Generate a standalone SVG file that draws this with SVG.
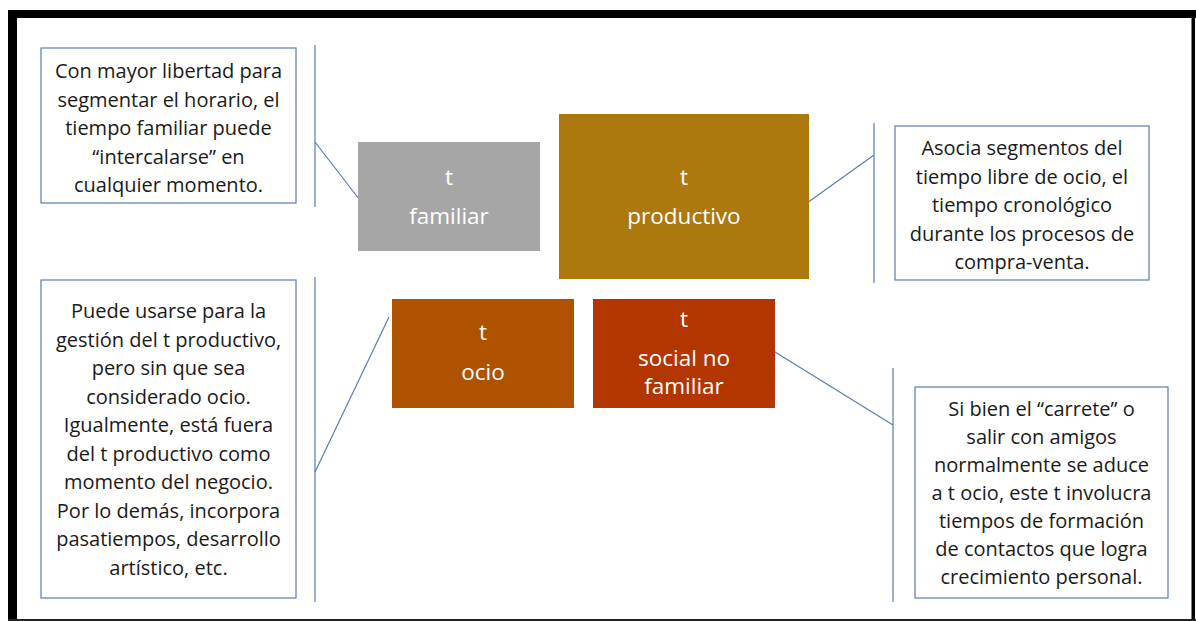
<svg xmlns="http://www.w3.org/2000/svg" width="1196" height="621" viewBox="0 0 1196 621">
<style>
.note{fill:#fff;stroke:#5b7bb6;stroke-width:1.2}
.nt{font-family:"Open Sans","Liberation Sans",sans-serif;font-size:20px;fill:#1a1a1a;text-anchor:middle}
.lt{font-family:"Open Sans","Liberation Sans",sans-serif;font-size:22.5px;fill:#fff;text-anchor:middle}
.cn{stroke:#5b7bb6;stroke-width:1.2;fill:none}
</style>
<rect width="1196" height="621" fill="#fff"/>
<g id="frame">
<rect x="8" y="10" width="1188" height="8" fill="#000"/>
<rect x="8" y="10" width="9" height="611" fill="#000"/>
<rect x="1191.5" y="10" width="3.5" height="611" fill="#000"/>
<rect x="8" y="619" width="1188" height="2" fill="#222"/>
</g>
<g id="connectors">
<line class="cn" x1="315" y1="45" x2="315" y2="207"/>
<line class="cn" x1="315" y1="142" x2="359" y2="199"/>
<line class="cn" x1="315" y1="277" x2="315" y2="602"/>
<line class="cn" x1="389" y1="317" x2="315" y2="472"/>
<line class="cn" x1="874" y1="123" x2="874" y2="283"/>
<line class="cn" x1="807" y1="203" x2="874" y2="155"/>
<line class="cn" x1="893" y1="368" x2="893" y2="602"/>
<line class="cn" x1="775" y1="352" x2="893" y2="425"/>
</g>
<g id="familiar">
<rect x="358" y="142" width="182" height="109" fill="#a6a6a6"/>
<text class="lt" x="449" y="185">t</text>
<text class="lt" x="449" y="224">familiar</text>
</g>
<g id="productivo">
<rect x="559" y="114" width="250" height="165" fill="#ad790f"/>
<text class="lt" x="684" y="185">t</text>
<text class="lt" x="684" y="224">productivo</text>
</g>
<g id="ocio">
<rect x="392" y="299" width="182" height="109" fill="#ae5200"/>
<text class="lt" x="483" y="340">t</text>
<text class="lt" x="483" y="380">ocio</text>
</g>
<g id="social">
<rect x="593" y="299" width="182" height="109" fill="#b33600"/>
<text class="lt" x="684" y="327">t</text>
<text class="lt" x="684" y="366">social no</text>
<text class="lt" x="684" y="394">familiar</text>
</g>
<g id="note-familiar">
<rect class="note" x="41" y="48" width="255" height="155"/>
<text class="nt" x="168.5" y="78">Con mayor libertad para</text>
<text class="nt" x="168.5" y="106.5">segmentar el horario, el</text>
<text class="nt" x="168.5" y="135">tiempo familiar puede</text>
<text class="nt" x="168.5" y="163.5">“intercalarse” en</text>
<text class="nt" x="168.5" y="192">cualquier momento.</text>
</g>
<g id="note-ocio">
<rect class="note" x="41" y="280" width="255" height="318"/>
<text class="nt" x="168.5" y="318">Puede usarse para la</text>
<text class="nt" x="168.5" y="346.5">gestión del t productivo,</text>
<text class="nt" x="168.5" y="375">pero sin que sea</text>
<text class="nt" x="168.5" y="403.5">considerado ocio.</text>
<text class="nt" x="168.5" y="432">Igualmente, está fuera</text>
<text class="nt" x="168.5" y="460.5">del t productivo como</text>
<text class="nt" x="168.5" y="489">momento del negocio.</text>
<text class="nt" x="168.5" y="517.5">Por lo demás, incorpora</text>
<text class="nt" x="168.5" y="546">pasatiempos, desarrollo</text>
<text class="nt" x="168.5" y="574.5">artístico, etc.</text>
</g>
<g id="note-productivo">
<rect class="note" x="895" y="126" width="254" height="154"/>
<text class="nt" x="1022" y="155">Asocia segmentos del</text>
<text class="nt" x="1022" y="183.5">tiempo libre de ocio, el</text>
<text class="nt" x="1022" y="212">tiempo cronológico</text>
<text class="nt" x="1022" y="240.5">durante los procesos de</text>
<text class="nt" x="1022" y="269">compra-venta.</text>
</g>
<g id="note-social">
<rect class="note" x="915" y="387" width="253" height="211"/>
<text class="nt" x="1041.5" y="416">Si bien el “carrete” o</text>
<text class="nt" x="1041.5" y="444">salir con amigos</text>
<text class="nt" x="1041.5" y="472">normalmente se aduce</text>
<text class="nt" x="1041.5" y="500">a t ocio, este t involucra</text>
<text class="nt" x="1041.5" y="528">tiempos de formación</text>
<text class="nt" x="1041.5" y="556">de contactos que logra</text>
<text class="nt" x="1041.5" y="584">crecimiento personal.</text>
</g>
</svg>
